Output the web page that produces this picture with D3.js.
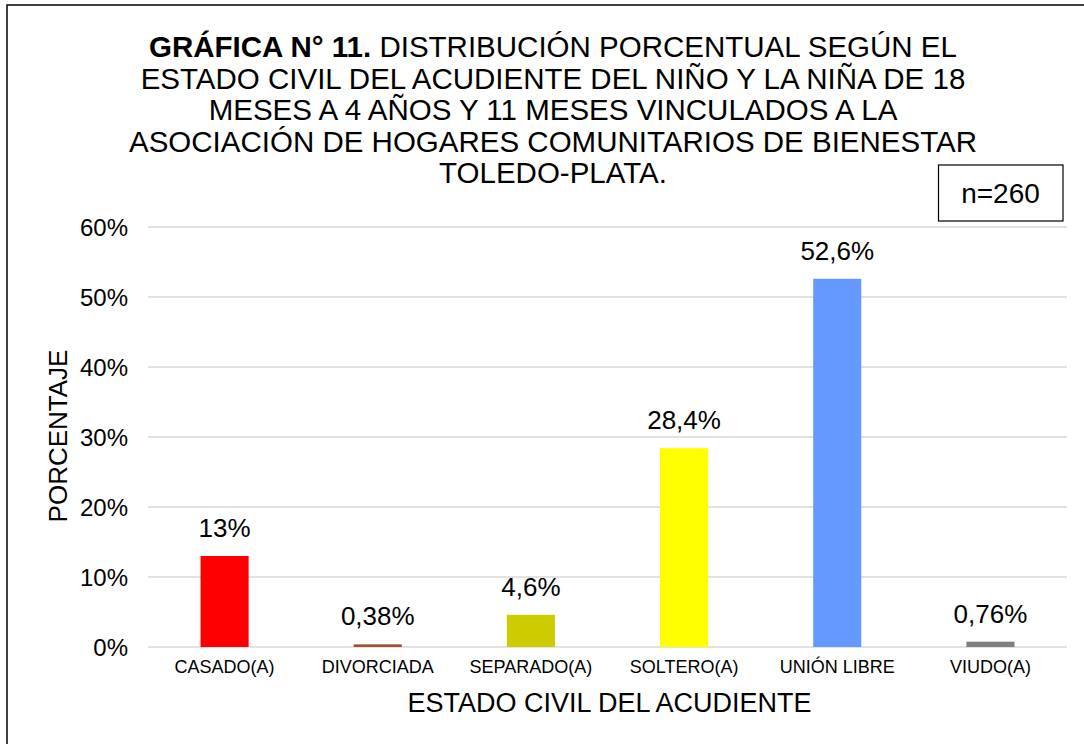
<!DOCTYPE html>
<html><head><meta charset="utf-8">
<script src="https://cdn.jsdelivr.net/npm/d3@7"></script>
<style>
body{margin:0;background:#fff;}
svg{font-family:"Liberation Sans",Arial,sans-serif;}
</style></head>
<body><svg id="c" width="1084" height="744"></svg>
<script>
const categories = ["CASADO(A)","DIVORCIADA","SEPARADO(A)","SOLTERO(A)","UNIÓN LIBRE","VIUDO(A)"];
const values = [13, 0.38, 4.6, 28.4, 52.6, 0.76];
const valueLabels = ["13%","0,38%","4,6%","28,4%","52,6%","0,76%"];
const colors = ["#FF0000","#A0522D","#CCCC00","#FFFF00","#6699FF","#7F7F7F"];
const yTicks = [0,10,20,30,40,50,60];
const titleLines = [
  ["GRÁFICA N° 11.", " DISTRIBUCIÓN PORCENTUAL SEGÚN EL"],
  ["", "ESTADO CIVIL DEL ACUDIENTE DEL NIÑO Y LA NIÑA DE 18"],
  ["", "MESES A 4 AÑOS Y 11 MESES VINCULADOS A LA"],
  ["", "ASOCIACIÓN DE HOGARES COMUNITARIOS DE BIENESTAR"],
  ["", "TOLEDO-PLATA."]
];
const yTitle = "PORCENTAJE";
const xTitle = "ESTADO CIVIL DEL ACUDIENTE";
const nLabel = "n=260";

const svg = d3.select("#c");
const L = 148, R = 1067, T = 227, B = 647;

// outer border
svg.append("rect").attr("x",7).attr("y",5).attr("width",1100).attr("height",800)
  .attr("fill","none").attr("stroke","#000").attr("stroke-width",1.5);

const x = d3.scaleBand().domain(categories).range([L,R]).paddingInner(0.686).paddingOuter(0.343);
const y = d3.scaleLinear().domain([0,60]).range([B,T]);

// gridlines
svg.append("g").selectAll("line").data(yTicks).join("line")
  .attr("x1",L).attr("x2",R).attr("y1",d=>y(d)).attr("y2",d=>y(d))
  .attr("stroke","#d9d9d9").attr("stroke-width",1.5);

// y axis labels
const yAxis = d3.axisLeft(y).tickValues(yTicks).tickFormat(d=>d+"%").tickSize(0).tickPadding(0);
const ga = svg.append("g").attr("transform",`translate(128,0)`).call(yAxis);
ga.select(".domain").remove();
ga.selectAll("text").attr("font-size",24).attr("fill","#000").attr("font-family","Liberation Sans, Arial, sans-serif").attr("dy","0.35em");

// bars
svg.append("g").selectAll("rect").data(values).join("rect")
  .attr("x",(d,i)=>x(categories[i])).attr("width",x.bandwidth())
  .attr("y",d=>y(d)).attr("height",d=>B-y(d)).attr("fill",(d,i)=>colors[i]);

// value labels
svg.append("g").selectAll("text").data(values).join("text")
  .attr("x",(d,i)=>x(categories[i])+x.bandwidth()/2).attr("y",d=>y(d)-19)
  .attr("text-anchor","middle").attr("font-size",26).attr("fill","#000")
  .text((d,i)=>valueLabels[i]);

// x axis labels
const xAxis = d3.axisBottom(x).tickSize(0).tickPadding(0);
const gx = svg.append("g").attr("transform",`translate(0,${B})`).call(xAxis);
gx.select(".domain").remove();
gx.selectAll("text").attr("font-size",18).attr("fill","#000").attr("font-family","Liberation Sans, Arial, sans-serif").attr("dy",null).attr("y",26);

// axis titles
svg.append("text").attr("x",(L+R)/2+2).attr("y",712).attr("text-anchor","middle").attr("font-size",27).text(xTitle);
svg.append("text").attr("transform","translate(67,436) rotate(-90)").attr("text-anchor","middle").attr("font-size",26).text(yTitle);

// title
titleLines.forEach((ln,i)=>{
  const t = svg.append("text").attr("x",553).attr("y",57+i*31.5).attr("text-anchor","middle").attr("font-size",29.5);
  if(ln[0]) t.append("tspan").attr("font-weight","bold").text(ln[0]);
  t.append("tspan").text(ln[1]);
});

// n box
svg.append("rect").attr("x",938.5).attr("y",165).attr("width",124.5).attr("height",56)
  .attr("fill","#fff").attr("stroke","#000").attr("stroke-width",1.2);
svg.append("text").attr("x",1000.5).attr("y",203).attr("text-anchor","middle").attr("font-size",28).text(nLabel);
</script></body></html>
